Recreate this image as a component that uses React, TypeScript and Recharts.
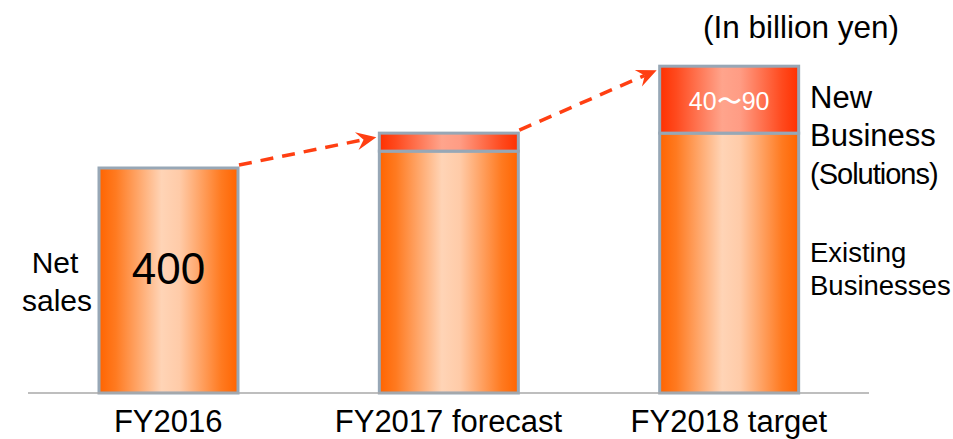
import React from "react";
import { BarChart, Bar, XAxis, YAxis } from "recharts";

const categories = ["FY2016", "FY2017 forecast", "FY2018 target"];
const existingSales = [400, 430, 462];
const newBusinessSales = [0, 32, 119];
const insideLabels = ["400", "", ""];
const newLabels = ["", "", "40〜90"];

const CHART_W = 953;
const CHART_H = 439;
const MARGIN = { top: 55.5, right: 84, left: 28, bottom: 6 };
const BAND = (CHART_W - MARGIN.left - MARGIN.right) / categories.length;

const FONT = '"Liberation Sans", Arial, Helvetica, sans-serif';
const STROKE = "#97a7b6";
const ARROW = "#ff3f12";

const data = categories.map((name, i) => ({
  name,
  existing: existingSales[i],
  newBiz: newBusinessSales[i],
  total: existingSales[i] + newBusinessSales[i],
  nextTotal:
    i < categories.length - 1
      ? existingSales[i + 1] + newBusinessSales[i + 1]
      : null,
  inside: insideLabels[i],
  newLabel: newLabels[i],
}));

function Arrow({ x1, y1, x2, y2 }: { x1: number; y1: number; x2: number; y2: number }) {
  const len = Math.hypot(x2 - x1, y2 - y1);
  const dx = (x2 - x1) / len;
  const dy = (y2 - y1) / len;
  const nx = -dy;
  const ny = dx;
  const head = 20;
  const back = 13;
  const half = 9;
  const pts = [
    [x2, y2],
    [x2 - dx * head + nx * half, y2 - dy * head + ny * half],
    [x2 - dx * back, y2 - dy * back],
    [x2 - dx * head - nx * half, y2 - dy * head - ny * half],
  ]
    .map((p) => p.join(","))
    .join(" ");
  return (
    <g>
      <line
        x1={x1}
        y1={y1}
        x2={x2 - dx * back}
        y2={y2 - dy * back}
        stroke={ARROW}
        strokeWidth={3.5}
        strokeDasharray="13 9"
      />
      <polygon points={pts} fill={ARROW} />
    </g>
  );
}

function ExistingShape(props: any) {
  const { x, y, width, height, payload } = props;
  if (!height || height <= 0) return null;
  const scale = height / payload.existing;
  const base = y + height;
  const top = base - payload.total * scale;
  let arrow = null;
  if (payload.nextTotal != null) {
    const nextTop = base - payload.nextTotal * scale;
    const nextLeft = x + BAND;
    arrow = <Arrow x1={x + width + 1} y1={top - 3} x2={nextLeft - 3} y2={nextTop + 4} />;
  }
  return (
    <g>
      <rect x={x} y={y} width={width} height={height} fill="url(#gradExisting)" stroke={STROKE} strokeWidth={3} />
      {payload.inside ? (
        <text x={x + width / 2} y={y + height / 2 + 3} textAnchor="middle" fontFamily={FONT} fontSize={44} fill="#000">
          {payload.inside}
        </text>
      ) : null}
      {arrow}
    </g>
  );
}

function NewShape(props: any) {
  const { x, y, width, height, payload } = props;
  if (!height || height <= 0) return null;
  return (
    <g>
      <rect x={x} y={y} width={width} height={height} fill="url(#gradNew)" stroke={STROKE} strokeWidth={3} />
      {payload.newLabel ? (
        <text x={x + width / 2} y={y + height / 2 + 10} textAnchor="middle" fontFamily={FONT} fontSize={25} fill="#fff">
          {payload.newLabel}
        </text>
      ) : null}
    </g>
  );
}

function Tick(props: any) {
  const { x, y, payload } = props;
  return (
    <text x={x} y={y} dy={31} textAnchor="middle" fontFamily={FONT} fontSize={31} fill="#000">
      {payload.value}
    </text>
  );
}

export default function App() {
  const txt = { fontFamily: FONT, fill: "#000" };
  return (
    <div style={{ position: "absolute", left: 0, top: 0, width: CHART_W, height: CHART_H, background: "#fff" }}>
      <BarChart width={CHART_W} height={CHART_H} data={data} margin={MARGIN} barSize={139}>
        <defs>
          <linearGradient id="gradExisting" x1="0" y1="0" x2="1" y2="0">
            <stop offset="0%" stopColor="#ff6400" />
            <stop offset="12%" stopColor="#ff7a20" />
            <stop offset="45%" stopColor="#ffd4b6" />
            <stop offset="58%" stopColor="#ffcba8" />
            <stop offset="88%" stopColor="#ff7a20" />
            <stop offset="100%" stopColor="#ff6400" />
          </linearGradient>
          <linearGradient id="gradNew" x1="0" y1="0" x2="1" y2="0">
            <stop offset="0%" stopColor="#ff3000" />
            <stop offset="12%" stopColor="#ff4a1e" />
            <stop offset="45%" stopColor="#ffa48c" />
            <stop offset="58%" stopColor="#ff9c84" />
            <stop offset="88%" stopColor="#ff4a1e" />
            <stop offset="100%" stopColor="#ff3000" />
          </linearGradient>
        </defs>
        <XAxis
          dataKey="name"
          height={40}
          axisLine={{ stroke: "#a8a8a8", strokeWidth: 1.5 }}
          tickLine={false}
          tick={<Tick />}
          interval={0}
        />
        <YAxis hide domain={[0, 600]} />
        <Bar dataKey="existing" stackId="s" shape={<ExistingShape />} isAnimationActive={false} />
        <Bar dataKey="newBiz" stackId="s" shape={<NewShape />} isAnimationActive={false} />
      </BarChart>
      <svg
        width={CHART_W}
        height={CHART_H}
        style={{ position: "absolute", left: 0, top: 0, pointerEvents: "none" }}
      >
        <text x={703} y={38} fontSize={31.5} {...txt}>(In billion yen)</text>
        <text x={810} y={108} fontSize={31} {...txt}>New</text>
        <text x={810} y={146} fontSize={31} {...txt}>Business</text>
        <text x={810} y={184} fontSize={29} letterSpacing={-1} {...txt}>(Solutions)</text>
        <text x={810} y={262} fontSize={27.5} {...txt}>Existing</text>
        <text x={810} y={295} fontSize={27.5} {...txt}>Businesses</text>
        <text x={55} y={273} fontSize={30} textAnchor="middle" {...txt}>Net</text>
        <text x={57} y={311} fontSize={30} textAnchor="middle" {...txt}>sales</text>
      </svg>
    </div>
  );
}
